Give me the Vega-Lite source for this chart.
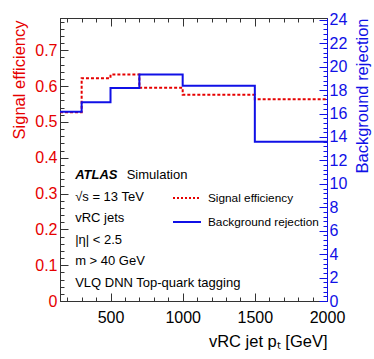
{
  "$schema": "https://vega.github.io/schema/vega-lite/v6.json",
  "width": 267,
  "height": 283,
  "autosize": "none",
  "padding": {"left": 60, "top": 18, "right": 47, "bottom": 58},
  "background": "white",
  "config": {
    "view": {"stroke": "#222222", "strokeWidth": 1},
    "font": "Liberation Sans",
    "axis": {"grid": false, "labelFont": "Liberation Sans", "titleFont": "Liberation Sans", "titleFontWeight": "normal", "labelFlush": false, "labelOverlap": false, "domainWidth": 1, "tickWidth": 1}
  },
  "datasets": {
    "bins": [
      {"pt": 150, "eff": 0.527, "rej": 16.15},
      {"pt": 300, "eff": 0.622, "rej": 16.95},
      {"pt": 500, "eff": 0.632, "rej": 18.17},
      {"pt": 700, "eff": 0.595, "rej": 19.33},
      {"pt": 1000, "eff": 0.576, "rej": 18.37},
      {"pt": 1500, "eff": 0.563, "rej": 13.6},
      {"pt": 2000, "eff": 0.563, "rej": 13.6}
    ]
  },
  "layer": [
    {
      "resolve": {"axis": {"x": "independent", "y": "independent"}},
      "layer": [
        {
          "data": {"name": "bins"},
          "mark": {"type": "line", "interpolate": "step-after", "strokeWidth": 2, "strokeDash": [3, 2]},
          "encoding": {
            "x": {
              "field": "pt", "type": "quantitative",
              "scale": {"domain": [150, 2000], "nice": false, "zero": false},
              "axis": {
                "orient": "bottom",
                "values": [200, 300, 400, 500, 600, 700, 800, 900, 1000, 1100, 1200, 1300, 1400, 1500, 1600, 1700, 1800, 1900, 2000],
                "tickSize": {"condition": {"test": "datum.value % 500 === 0", "value": -8}, "value": -4},
                "tickColor": "#333333", "domainColor": "#333333",
                "labelExpr": "datum.value % 500 === 0 ? format(datum.value, 'd') : ''",
                "labelFontSize": 16, "labelColor": "#000000", "labelPadding": 16,
                "title": "vRC jet p\u209c [GeV]", "titleFontSize": 16.5, "titleColor": "#000000",
                "titleX": 267, "titleY": 45, "titleAlign": "right", "titleBaseline": "alphabetic", "titleAnchor": "end"
              }
            },
            "y": {
              "field": "eff", "type": "quantitative",
              "scale": {"domain": [0, 0.79], "nice": false},
              "axis": {
                "orient": "left",
                "values": [0, 0.02, 0.04, 0.06, 0.08, 0.1, 0.12, 0.14, 0.16, 0.18, 0.2, 0.22, 0.24, 0.26, 0.28, 0.3, 0.32, 0.34, 0.36, 0.38, 0.4, 0.42, 0.44, 0.46, 0.48, 0.5, 0.52, 0.54, 0.56, 0.58, 0.6, 0.62, 0.64, 0.66, 0.68, 0.7, 0.72, 0.74, 0.76, 0.78],
                "tickSize": {"condition": {"test": "abs(datum.value*10 - round(datum.value*10)) < 1e-6", "value": -8}, "value": -4},
                "tickColor": "#333333", "domainColor": "#333333",
                "labelExpr": "abs(datum.value*10 - round(datum.value*10)) < 1e-6 ? format(datum.value, '.1~f') : ''",
                "labelFontSize": 16, "labelColor": "#e60000", "labelPadding": 11,
                "title": "Signal efficiency", "titleFontSize": 16.5, "titleColor": "#e60000",
                "titleX": -41, "titleY": 2, "titleAlign": "right", "titleAngle": -90, "titleBaseline": "middle"
              }
            },
            "color": {
              "datum": "Signal efficiency",
              "scale": {"domain": ["Signal efficiency", "Background rejection"], "range": ["#e60000", "#1010e6"]},
              "legend": {
                "orient": "none", "legendX": 112, "legendY": 165, "title": null,
                "symbolType": "stroke", "symbolSize": 784, "symbolStrokeWidth": 2,
                "labelFontSize": 11.8, "labelFont": "Liberation Sans", "labelColor": "#000000", "labelOffset": 6,
                "rowPadding": 2, "padding": 0,
                "encode": {"symbols": {"update": {"strokeDash": {"signal": "datum.value === 'Signal efficiency' ? [2, 2] : [1, 0]"}}}}
              }
            }
          }
        },
        {
          "data": {"values": [{}]},
          "mark": {"type": "text", "text": "ATLAS", "fontStyle": "italic", "fontWeight": "bold", "fontSize": 13, "align": "left", "baseline": "middle", "font": "Liberation Sans", "color": "#000000"},
          "encoding": {
            "x": {"datum": 255, "type": "quantitative", "axis": null},
            "y": {"datum": 0.352, "type": "quantitative", "axis": null}
          }
        },
        {
          "data": {"values": [{}]},
          "mark": {"type": "text", "text": "Simulation", "fontSize": 13, "align": "left", "baseline": "middle", "font": "Liberation Sans", "color": "#000000"},
          "encoding": {
            "x": {"datum": 612, "type": "quantitative", "axis": null},
            "y": {"datum": 0.352, "type": "quantitative", "axis": null}
          }
        },
        {
          "data": {"values": [{}]},
          "mark": {"type": "text", "text": ["\u221as = 13 TeV", "vRC jets", "|\u03b7| < 2.5", "m > 40 GeV", "VLQ DNN Top-quark tagging"], "lineHeight": 21.5, "fontSize": 13, "align": "left", "baseline": "middle", "font": "Liberation Sans", "color": "#000000"},
          "encoding": {
            "x": {"datum": 255, "type": "quantitative", "axis": null},
            "y": {"datum": 0.291, "type": "quantitative", "axis": null}
          }
        }
      ]
    },
    {
      "data": {"name": "bins"},
      "mark": {"type": "line", "interpolate": "step-after", "strokeWidth": 2},
      "encoding": {
        "x": {
          "field": "pt", "type": "quantitative",
          "scale": {"domain": [150, 2000], "nice": false, "zero": false},
          "axis": {
            "orient": "top",
            "values": [200, 300, 400, 500, 600, 700, 800, 900, 1000, 1100, 1200, 1300, 1400, 1500, 1600, 1700, 1800, 1900, 2000],
            "tickSize": {"condition": {"test": "datum.value % 500 === 0", "value": -8}, "value": -4},
            "tickColor": "#333333", "domainColor": "#333333",
            "labels": false, "title": null
          }
        },
        "y": {
          "field": "rej", "type": "quantitative",
          "scale": {"domain": [0, 24.15], "nice": false},
          "axis": {
            "orient": "right",
            "values": [0, 0.4, 0.8, 1.2, 1.6, 2, 2.4, 2.8, 3.2, 3.6, 4, 4.4, 4.8, 5.2, 5.6, 6, 6.4, 6.8, 7.2, 7.6, 8, 8.4, 8.8, 9.2, 9.6, 10, 10.4, 10.8, 11.2, 11.6, 12, 12.4, 12.8, 13.2, 13.6, 14, 14.4, 14.8, 15.2, 15.6, 16, 16.4, 16.8, 17.2, 17.6, 18, 18.4, 18.8, 19.2, 19.6, 20, 20.4, 20.8, 21.2, 21.6, 22, 22.4, 22.8, 23.2, 23.6, 24],
            "tickSize": {"condition": {"test": "abs(datum.value/2 - round(datum.value/2)) < 1e-6", "value": -8}, "value": -4},
            "tickColor": "#1010e6", "domainColor": "#1010e6",
            "labelExpr": "abs(datum.value/2 - round(datum.value/2)) < 1e-6 ? format(datum.value, 'd') : ''",
            "labelFontSize": 16, "labelColor": "#1010e6", "labelPadding": 10,
            "title": "Background rejection", "titleFontSize": 16.5, "titleColor": "#1010e6",
            "titleX": 35, "titleY": 0, "titleAlign": "right", "titleAngle": -90, "titleBaseline": "middle"
          }
        },
        "color": {"datum": "Background rejection"}
      }
    }
  ],
  "resolve": {"scale": {"y": "independent"}, "axis": {"x": "independent", "y": "independent"}}
}
